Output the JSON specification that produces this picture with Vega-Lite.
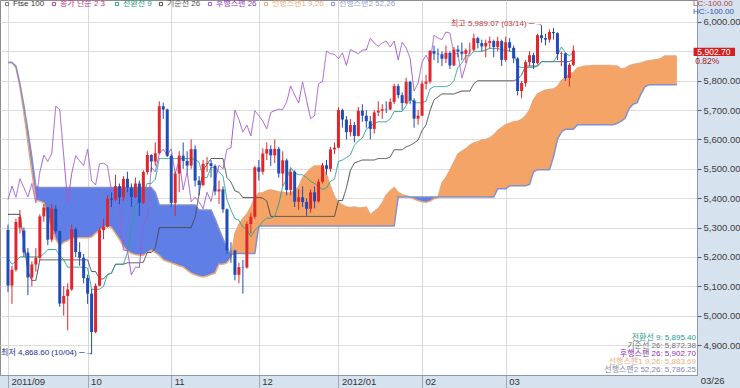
{
"$schema":"https://vega.github.io/schema/vega-lite/v6.json",
"width":697,"height":375,
"autosize":{"type":"none"},
"padding":{"left":0,"top":0,"right":43,"bottom":13},
"background":"#d7e2ef",
"view":{"fill":"#ffffff","stroke":"#8c8c8c"},
"config":{"font":"Liberation Sans, Noto Sans CJK KR","axis":{"labelFont":"Liberation Sans, Noto Sans CJK KR"},"legend":{"labelFont":"Liberation Sans, Noto Sans CJK KR"},
 "axisY":{"tickSize":4,"tickColor":"#555555","labelPadding":2,"labelFontSize":9.5,"labelColor":"#3c3c3c","labelOverlap":false,"labelFlush":false,"domainColor":"#8a9ab0","grid":true,"gridColor":"#dcdcdc"}},
"datasets":{
"main":[
{"i":0,"o":5292,"h":5310,"l":5080,"c":5102.6,"t":5195,"k":5345,"ch":5395},
{"i":1,"o":5102.6,"h":5170,"l":5040,"c":5156.4,"t":5175,"k":5345,"ch":5441},
{"i":2,"o":5156.4,"h":5330,"l":5150,"c":5318.6,"t":5185,"k":5345,"ch":5403},
{"i":3,"o":5300,"h":5360,"l":5280,"c":5336,"t":5200,"k":5345,"ch":5466},
{"i":4,"o":5290,"h":5300,"l":5200,"c":5215,"t":5200,"k":5250,"ch":5436},
{"i":5,"o":5215,"h":5230,"l":5070,"c":5130,"t":5200,"k":5150,"ch":5404},
{"i":6,"o":5130,"h":5185,"l":5100,"c":5174,"t":5200,"k":5120,"ch":5450},
{"i":7,"o":5174,"h":5230,"l":5150,"c":5197,"t":5200,"k":5120,"ch":5384},
{"i":8,"o":5197,"h":5345,"l":5190,"c":5338,"t":5200,"k":5190,"ch":5489},
{"i":9,"o":5338,"h":5380,"l":5320,"c":5368,"t":5210,"k":5190,"ch":5547},
{"i":10,"o":5368,"h":5370,"l":5240,"c":5259,"t":5225,"k":5190,"ch":5525},
{"i":11,"o":5259,"h":5380,"l":5250,"c":5364,"t":5225,"k":5190,"ch":5553},
{"i":12,"o":5364,"h":5375,"l":5280,"c":5288,"t":5225,"k":5190,"ch":5713},
{"i":13,"o":5288,"h":5290,"l":5030,"c":5041,"t":5205,"k":5190,"ch":5702},
{"i":14,"o":5041,"h":5100,"l":5000,"c":5067,"t":5190,"k":5190,"ch":5544},
{"i":15,"o":5067,"h":5110,"l":4950,"c":5089,"t":5165,"k":5190,"ch":5384},
{"i":16,"o":5089,"h":5310,"l":5085,"c":5294,"t":5165,"k":5190,"ch":5484},
{"i":17,"o":5294,"h":5300,"l":5200,"c":5217,"t":5165,"k":5190,"ch":5545},
{"i":18,"o":5217,"h":5250,"l":5170,"c":5197,"t":5165,"k":5190,"ch":5527},
{"i":19,"o":5197,"h":5210,"l":5110,"c":5128,"t":5165,"k":5190,"ch":5511},
{"i":20,"o":5128,"h":5140,"l":5040,"c":5075,"t":5162,"k":5190,"ch":5567},
{"i":21,"o":5075,"h":5090,"l":4868.6,"c":4944,"t":5090,"k":5150,"ch":5460},
{"i":22,"o":4944,"h":5110,"l":4940,"c":5102,"t":5090,"k":5150,"ch":5445},
{"i":23,"o":5102,"h":5300,"l":5100,"c":5291,"t":5090,"k":5125,"ch":5517},
{"i":24,"o":5291,"h":5330,"l":5260,"c":5303,"t":5100,"k":5125,"ch":5519},
{"i":25,"o":5303,"h":5410,"l":5300,"c":5399,"t":5140,"k":5140,"ch":5510},
{"i":26,"o":5399,"h":5420,"l":5370,"c":5395,"t":5145,"k":5145,"ch":5423},
{"i":27,"o":5395,"h":5480,"l":5390,"c":5441,"t":5175,"k":5175,"ch":5430},
{"i":28,"o":5441,"h":5450,"l":5380,"c":5403,"t":5175,"k":5175,"ch":5362},
{"i":29,"o":5403,"h":5475,"l":5390,"c":5466,"t":5175,"k":5175,"ch":5223},
{"i":30,"o":5466,"h":5490,"l":5420,"c":5436,"t":5215,"k":5180,"ch":5222},
{"i":31,"o":5436,"h":5450,"l":5370,"c":5404,"t":5295,"k":5180,"ch":5139},
{"i":32,"o":5404,"h":5470,"l":5400,"c":5450,"t":5375,"k":5180,"ch":5165},
{"i":33,"o":5450,"h":5460,"l":5340,"c":5384,"t":5395,"k":5180,"ch":5164},
{"i":34,"o":5384,"h":5495,"l":5380,"c":5489,"t":5418,"k":5182,"ch":5312},
{"i":35,"o":5489,"h":5560,"l":5480,"c":5547,"t":5450,"k":5215,"ch":5337},
{"i":36,"o":5547,"h":5550,"l":5490,"c":5525,"t":5450,"k":5215,"ch":5505},
{"i":37,"o":5525,"h":5590,"l":5510,"c":5553,"t":5465,"k":5230,"ch":5490},
{"i":38,"o":5553,"h":5730,"l":5550,"c":5713,"t":5535,"k":5300,"ch":5552},
{"i":39,"o":5713,"h":5725,"l":5670,"c":5702,"t":5535,"k":5300,"ch":5567},
{"i":40,"o":5702,"h":5705,"l":5540,"c":5544,"t":5535,"k":5300,"ch":5546},
{"i":41,"o":5544,"h":5550,"l":5370,"c":5384,"t":5535,"k":5300,"ch":5568},
{"i":42,"o":5384,"h":5490,"l":5340,"c":5484,"t":5535,"k":5300,"ch":5484},
{"i":43,"o":5484,"h":5560,"l":5420,"c":5545,"t":5535,"k":5300,"ch":5529},
{"i":44,"o":5545,"h":5590,"l":5500,"c":5527,"t":5535,"k":5300,"ch":5428},
{"i":45,"o":5527,"h":5560,"l":5490,"c":5511,"t":5535,"k":5300,"ch":5490},
{"i":46,"o":5511,"h":5600,"l":5500,"c":5567,"t":5535,"k":5300,"ch":5388},
{"i":47,"o":5567,"h":5580,"l":5440,"c":5460,"t":5532,"k":5335,"ch":5403},
{"i":48,"o":5460,"h":5475,"l":5410,"c":5445,"t":5522,"k":5415,"ch":5387},
{"i":49,"o":5445,"h":5530,"l":5440,"c":5517,"t":5470,"k":5495,"ch":5364},
{"i":50,"o":5517,"h":5540,"l":5490,"c":5519,"t":5470,"k":5515,"ch":5420},
{"i":51,"o":5519,"h":5530,"l":5470,"c":5510,"t":5505,"k":5535,"ch":5389},
{"i":52,"o":5510,"h":5515,"l":5410,"c":5423,"t":5505,"k":5535,"ch":5456},
{"i":53,"o":5423,"h":5460,"l":5380,"c":5430,"t":5490,"k":5535,"ch":5512},
{"i":54,"o":5430,"h":5440,"l":5350,"c":5362,"t":5475,"k":5535,"ch":5500},
{"i":55,"o":5362,"h":5365,"l":5210,"c":5223,"t":5395,"k":5470,"ch":5566},
{"i":56,"o":5223,"h":5250,"l":5180,"c":5222,"t":5360,"k":5455,"ch":5572},
{"i":57,"o":5222,"h":5225,"l":5120,"c":5139,"t":5330,"k":5425,"ch":5700},
{"i":58,"o":5139,"h":5180,"l":5110,"c":5165,"t":5325,"k":5420,"ch":5668},
{"i":59,"o":5165,"h":5190,"l":5075,"c":5164,"t":5302,"k":5402,"ch":5625},
{"i":60,"o":5164,"h":5320,"l":5160,"c":5312,"t":5295,"k":5402,"ch":5649},
{"i":61,"o":5312,"h":5350,"l":5280,"c":5337,"t":5268,"k":5402,"ch":5612},
{"i":62,"o":5337,"h":5510,"l":5330,"c":5505,"t":5292,"k":5402,"ch":5698},
{"i":63,"o":5505,"h":5530,"l":5460,"c":5490,"t":5302,"k":5402,"ch":5681},
{"i":64,"o":5490,"h":5570,"l":5480,"c":5552,"t":5322,"k":5400,"ch":5662},
{"i":65,"o":5552,"h":5590,"l":5530,"c":5567,"t":5332,"k":5390,"ch":5636},
{"i":66,"o":5567,"h":5580,"l":5510,"c":5546,"t":5332,"k":5338,"ch":5692},
{"i":67,"o":5546,"h":5600,"l":5520,"c":5568,"t":5338,"k":5338,"ch":5698},
{"i":68,"o":5568,"h":5575,"l":5470,"c":5484,"t":5380,"k":5338,"ch":5703},
{"i":69,"o":5484,"h":5560,"l":5440,"c":5529,"t":5440,"k":5338,"ch":5702},
{"i":70,"o":5529,"h":5535,"l":5410,"c":5428,"t":5465,"k":5338,"ch":5728},
{"i":71,"o":5428,"h":5500,"l":5410,"c":5490,"t":5505,"k":5338,"ch":5782},
{"i":72,"o":5490,"h":5495,"l":5370,"c":5388,"t":5485,"k":5338,"ch":5751},
{"i":73,"o":5388,"h":5430,"l":5360,"c":5403,"t":5480,"k":5338,"ch":5724},
{"i":74,"o":5403,"h":5440,"l":5370,"c":5387,"t":5480,"k":5338,"ch":5796},
{"i":75,"o":5387,"h":5400,"l":5340,"c":5364,"t":5470,"k":5338,"ch":5733},
{"i":76,"o":5364,"h":5430,"l":5350,"c":5420,"t":5458,"k":5338,"ch":5671},
{"i":77,"o":5420,"h":5440,"l":5365,"c":5389,"t":5450,"k":5338,"ch":5681},
{"i":78,"o":5389,"h":5465,"l":5385,"c":5456,"t":5438,"k":5338,"ch":5790},
{"i":79,"o":5456,"h":5520,"l":5450,"c":5512,"t":5430,"k":5338,"ch":5797},
{"i":80,"o":5512,"h":5530,"l":5480,"c":5500,"t":5435,"k":5338,"ch":5901},
{"i":81,"o":5500,"h":5575,"l":5490,"c":5566,"t":5458,"k":5338,"ch":5892},
{"i":82,"o":5566,"h":5590,"l":5550,"c":5572,"t":5465,"k":5338,"ch":5890},
{"i":83,"o":5572,"h":5710,"l":5570,"c":5700,"t":5525,"k":5392,"ch":5875},
{"i":84,"o":5700,"h":5705,"l":5640,"c":5668,"t":5530,"k":5392,"ch":5895},
{"i":85,"o":5668,"h":5680,"l":5600,"c":5625,"t":5538,"k":5435,"ch":5852},
{"i":86,"o":5625,"h":5670,"l":5610,"c":5649,"t":5548,"k":5495,"ch":5906},
{"i":87,"o":5649,"h":5660,"l":5590,"c":5612,"t":5580,"k":5520,"ch":5899},
{"i":88,"o":5612,"h":5710,"l":5610,"c":5698,"t":5595,"k":5525,"ch":5892},
{"i":89,"o":5698,"h":5720,"l":5660,"c":5681,"t":5605,"k":5530,"ch":5904},
{"i":90,"o":5681,"h":5700,"l":5640,"c":5662,"t":5635,"k":5530,"ch":5905},
{"i":91,"o":5662,"h":5680,"l":5600,"c":5636,"t":5645,"k":5530,"ch":5945},
{"i":92,"o":5636,"h":5700,"l":5620,"c":5692,"t":5655,"k":5530,"ch":5928},
{"i":93,"o":5692,"h":5730,"l":5680,"c":5698,"t":5660,"k":5535,"ch":5917},
{"i":94,"o":5698,"h":5720,"l":5670,"c":5703,"t":5660,"k":5535,"ch":5929},
{"i":95,"o":5703,"h":5730,"l":5690,"c":5702,"t":5660,"k":5535,"ch":5935},
{"i":96,"o":5702,"h":5740,"l":5700,"c":5728,"t":5670,"k":5540,"ch":5915},
{"i":97,"o":5728,"h":5790,"l":5720,"c":5782,"t":5695,"k":5565,"ch":5935},
{"i":98,"o":5782,"h":5790,"l":5740,"c":5751,"t":5695,"k":5565,"ch":5871},
{"i":99,"o":5751,"h":5760,"l":5700,"c":5724,"t":5695,"k":5565,"ch":5931},
{"i":100,"o":5724,"h":5810,"l":5720,"c":5796,"t":5715,"k":5575,"ch":5912},
{"i":101,"o":5796,"h":5800,"l":5720,"c":5733,"t":5740,"k":5580,"ch":5876},
{"i":102,"o":5733,"h":5740,"l":5640,"c":5671,"t":5725,"k":5588,"ch":5765},
{"i":103,"o":5671,"h":5700,"l":5650,"c":5681,"t":5725,"k":5598,"ch":5792},
{"i":104,"o":5681,"h":5800,"l":5680,"c":5790,"t":5725,"k":5630,"ch":5863},
{"i":105,"o":5790,"h":5820,"l":5770,"c":5797,"t":5730,"k":5650,"ch":5887},
{"i":106,"o":5797,"h":5905,"l":5790,"c":5901,"t":5772,"k":5698,"ch":5860},
{"i":107,"o":5901,"h":5920,"l":5870,"c":5892,"t":5780,"k":5735,"ch":5955},
{"i":108,"o":5892,"h":5910,"l":5860,"c":5890,"t":5780,"k":5745,"ch":5945},
{"i":109,"o":5890,"h":5900,"l":5850,"c":5875,"t":5780,"k":5755,"ch":5940},
{"i":110,"o":5875,"h":5920,"l":5860,"c":5895,"t":5780,"k":5755,"ch":5966},
{"i":111,"o":5895,"h":5900,"l":5840,"c":5852,"t":5785,"k":5755,"ch":5962},
{"i":112,"o":5852,"h":5915,"l":5850,"c":5906,"t":5800,"k":5755,"ch":5891},
{"i":113,"o":5906,"h":5920,"l":5880,"c":5899,"t":5845,"k":5760,"ch":5893},
{"i":114,"o":5899,"h":5930,"l":5870,"c":5892,"t":5860,"k":5765,"ch":5809},
{"i":115,"o":5892,"h":5910,"l":5860,"c":5904,"t":5885,"k":5765,"ch":5854},
{"i":116,"o":5904,"h":5930,"l":5890,"c":5905,"t":5885,"k":5765,"ch":5902.7},
{"i":117,"o":5905,"h":5960,"l":5900,"c":5945,"t":5900,"k":5790},
{"i":118,"o":5945,"h":5950,"l":5910,"c":5928,"t":5900,"k":5800},
{"i":119,"o":5928,"h":5940,"l":5900,"c":5917,"t":5900,"k":5800},
{"i":120,"o":5917,"h":5940,"l":5880,"c":5929,"t":5905,"k":5800},
{"i":121,"o":5929,"h":5950,"l":5910,"c":5935,"t":5910,"k":5800},
{"i":122,"o":5935,"h":5940,"l":5880,"c":5915,"t":5910,"k":5800},
{"i":123,"o":5915,"h":5950,"l":5900,"c":5935,"t":5910,"k":5800},
{"i":124,"o":5935,"h":5940,"l":5850,"c":5871,"t":5905,"k":5800},
{"i":125,"o":5871,"h":5950,"l":5865,"c":5931,"t":5905,"k":5800},
{"i":126,"o":5931,"h":5945,"l":5900,"c":5912,"t":5900,"k":5800},
{"i":127,"o":5912,"h":5920,"l":5860,"c":5876,"t":5900,"k":5800},
{"i":128,"o":5876,"h":5880,"l":5750,"c":5765,"t":5850,"k":5805},
{"i":129,"o":5765,"h":5800,"l":5740,"c":5792,"t":5845,"k":5820},
{"i":130,"o":5792,"h":5870,"l":5780,"c":5863,"t":5845,"k":5850},
{"i":131,"o":5863,"h":5900,"l":5850,"c":5887,"t":5845,"k":5850},
{"i":132,"o":5887,"h":5895,"l":5840,"c":5860,"t":5845,"k":5850},
{"i":133,"o":5860,"h":5960,"l":5855,"c":5955,"t":5850,"k":5850},
{"i":134,"o":5955,"h":5989.07,"l":5930,"c":5945,"t":5865,"k":5865},
{"i":135,"o":5945,"h":5960,"l":5920,"c":5940,"t":5865,"k":5865},
{"i":136,"o":5940,"h":5975,"l":5930,"c":5966,"t":5865,"k":5865},
{"i":137,"o":5966,"h":5980,"l":5940,"c":5962,"t":5865,"k":5865},
{"i":138,"o":5962,"h":5965,"l":5870,"c":5891,"t":5885,"k":5865},
{"i":139,"o":5891,"h":5900,"l":5850,"c":5893,"t":5915,"k":5865},
{"i":140,"o":5893,"h":5895,"l":5800,"c":5809,"t":5895,"k":5865},
{"i":141,"o":5809,"h":5860,"l":5780,"c":5854,"t":5885,"k":5865},
{"i":142,"o":5854,"h":5920,"l":5850,"c":5902.7,"t":5895.4,"k":5872.38}
],
"cloud":[
{"i":0,"a":5862,"b":5862,"s":"1"},{"i":1,"a":5862,"b":5862,"s":"1"},{"i":2,"a":5845,"b":5850,"s":"1"},{"i":3,"a":5780,"b":5790,"s":"1"},
{"i":4,"a":5690,"b":5715,"s":"1"},{"i":5,"a":5590,"b":5630,"s":"1"},{"i":6,"a":5490,"b":5540,"s":"1"},{"i":7,"a":5394,"b":5440,"s":"1"},
{"i":8,"a":5390,"b":5436,"s":"1"},{"i":9,"a":5384,"b":5436,"s":"1"},{"i":10,"a":5340,"b":5436,"s":"1"},{"i":11,"a":5300,"b":5436,"s":"1"},
{"i":12,"a":5260,"b":5436,"s":"1"},{"i":13,"a":5238,"b":5436,"s":"1"},{"i":14,"a":5250,"b":5436,"s":"1"},{"i":15,"a":5255,"b":5436,"s":"1"},
{"i":16,"a":5265,"b":5436,"s":"1"},{"i":17,"a":5265,"b":5436,"s":"1"},{"i":18,"a":5265,"b":5436,"s":"1"},{"i":19,"a":5265,"b":5436,"s":"1"},
{"i":20,"a":5265,"b":5436,"s":"1"},{"i":21,"a":5268,"b":5436,"s":"1"},{"i":22,"a":5280,"b":5436,"s":"1"},{"i":23,"a":5292,"b":5436,"s":"1"},
{"i":24,"a":5300,"b":5436,"s":"1"},{"i":25,"a":5306,"b":5436,"s":"1"},{"i":26,"a":5300,"b":5436,"s":"1"},{"i":27,"a":5280,"b":5436,"s":"1"},
{"i":28,"a":5260,"b":5436,"s":"1"},{"i":29,"a":5235,"b":5436,"s":"1"},{"i":30,"a":5220,"b":5436,"s":"1"},{"i":31,"a":5212,"b":5436,"s":"1"},
{"i":32,"a":5208,"b":5436,"s":"1"},{"i":33,"a":5206,"b":5436,"s":"1"},{"i":34,"a":5206,"b":5436,"s":"1"},{"i":35,"a":5215,"b":5436,"s":"1"},
{"i":36,"a":5223,"b":5436,"s":"1"},{"i":37,"a":5215,"b":5420,"s":"1"},{"i":38,"a":5205,"b":5377,"s":"1"},{"i":39,"a":5190,"b":5377,"s":"1"},
{"i":40,"a":5185,"b":5377,"s":"1"},{"i":41,"a":5180,"b":5377,"s":"1"},{"i":42,"a":5175,"b":5377,"s":"1"},{"i":43,"a":5170,"b":5377,"s":"1"},
{"i":44,"a":5166,"b":5377,"s":"1"},{"i":45,"a":5155,"b":5377,"s":"1"},{"i":46,"a":5145,"b":5377,"s":"1"},{"i":47,"a":5139,"b":5377,"s":"1"},
{"i":48,"a":5135,"b":5360,"s":"1"},{"i":49,"a":5132,"b":5360,"s":"1"},{"i":50,"a":5135,"b":5360,"s":"1"},{"i":51,"a":5140,"b":5360,"s":"1"},
{"i":52,"a":5145,"b":5330,"s":"1"},{"i":53,"a":5175,"b":5295,"s":"1"},{"i":54,"a":5175,"b":5262,"s":"1"},{"i":55,"a":5180,"b":5230,"s":"1"},
{"i":56,"a":5198,"b":5208,"s":"1"},{"i":56.13,"a":5208.5,"b":5208.5,"s":"1"},
{"i":56.13,"a":5208.5,"b":5208.5,"s":"2"},{"i":57,"a":5280,"b":5212,"s":"2"},{"i":58,"a":5310,"b":5212,"s":"2"},{"i":59,"a":5330,"b":5212,"s":"2"},
{"i":60,"a":5345,"b":5212,"s":"2"},{"i":61,"a":5370,"b":5212,"s":"2"},{"i":62,"a":5400,"b":5212,"s":"2"},{"i":63,"a":5418,"b":5305,"s":"2"},
{"i":64,"a":5418,"b":5305,"s":"2"},{"i":65,"a":5425,"b":5305,"s":"2"},{"i":66,"a":5428,"b":5305,"s":"2"},{"i":67,"a":5425,"b":5305,"s":"2"},
{"i":68,"a":5421,"b":5305,"s":"2"},{"i":69,"a":5420,"b":5305,"s":"2"},{"i":70,"a":5418,"b":5305,"s":"2"},{"i":71,"a":5418,"b":5305,"s":"2"},
{"i":72,"a":5425,"b":5305,"s":"2"},{"i":73,"a":5438,"b":5305,"s":"2"},{"i":74,"a":5470,"b":5305,"s":"2"},{"i":75,"a":5486,"b":5305,"s":"2"},
{"i":76,"a":5500,"b":5305,"s":"2"},{"i":77,"a":5510,"b":5305,"s":"2"},{"i":78,"a":5510,"b":5305,"s":"2"},{"i":79,"a":5508,"b":5305,"s":"2"},
{"i":80,"a":5480,"b":5305,"s":"2"},{"i":81,"a":5440,"b":5305,"s":"2"},{"i":82,"a":5405,"b":5305,"s":"2"},{"i":83,"a":5385,"b":5305,"s":"2"},
{"i":84,"a":5377,"b":5305,"s":"2"},{"i":85,"a":5370,"b":5305,"s":"2"},{"i":86,"a":5368,"b":5305,"s":"2"},{"i":87,"a":5370,"b":5305,"s":"2"},
{"i":88,"a":5367,"b":5305,"s":"2"},{"i":89,"a":5367,"b":5305,"s":"2"},{"i":90,"a":5370,"b":5305,"s":"2"},{"i":91,"a":5343,"b":5305,"s":"2"},
{"i":92,"a":5355,"b":5305,"s":"2"},{"i":93,"a":5365,"b":5305,"s":"2"},{"i":94,"a":5384,"b":5305,"s":"2"},{"i":95,"a":5410,"b":5305,"s":"2"},
{"i":96,"a":5425,"b":5305,"s":"2"},{"i":97,"a":5436,"b":5305,"s":"2"},{"i":98,"a":5420,"b":5404,"s":"2"},{"i":99,"a":5412,"b":5404,"s":"2"},
{"i":100,"a":5408,"b":5404,"s":"2"},{"i":101,"a":5404,"b":5404,"s":"2"},
{"i":101,"a":5404,"b":5404,"s":"3"},{"i":102,"a":5397,"b":5404,"s":"3"},{"i":103,"a":5392,"b":5404,"s":"3"},{"i":104,"a":5388,"b":5404,"s":"3"},
{"i":105,"a":5386,"b":5404,"s":"3"},{"i":106,"a":5390,"b":5404,"s":"3"},{"i":107,"a":5398,"b":5404,"s":"3"},{"i":108,"a":5402,"b":5404,"s":"3"},
{"i":108.04,"a":5404,"b":5404,"s":"3"},
{"i":108.04,"a":5404,"b":5404,"s":"4"},{"i":109,"a":5452,"b":5404,"s":"4"},{"i":110,"a":5470,"b":5404,"s":"4"},{"i":111,"a":5495,"b":5404,"s":"4"},
{"i":112,"a":5522,"b":5404,"s":"4"},{"i":113,"a":5550,"b":5404,"s":"4"},{"i":114,"a":5560,"b":5404,"s":"4"},{"i":115,"a":5568,"b":5404,"s":"4"},
{"i":116,"a":5580,"b":5404,"s":"4"},{"i":117,"a":5588,"b":5404,"s":"4"},{"i":118,"a":5592,"b":5404,"s":"4"},{"i":119,"a":5598,"b":5404,"s":"4"},
{"i":120,"a":5600,"b":5404,"s":"4"},{"i":121,"a":5605,"b":5404,"s":"4"},{"i":122,"a":5615,"b":5404,"s":"4"},{"i":123,"a":5630,"b":5432,"s":"4"},
{"i":124,"a":5640,"b":5432,"s":"4"},{"i":125,"a":5650,"b":5432,"s":"4"},{"i":126,"a":5655,"b":5442,"s":"4"},{"i":127,"a":5660,"b":5442,"s":"4"},
{"i":128,"a":5662,"b":5442,"s":"4"},{"i":129,"a":5668,"b":5442,"s":"4"},{"i":130,"a":5680,"b":5442,"s":"4"},{"i":131,"a":5700,"b":5447,"s":"4"},
{"i":132,"a":5735,"b":5490,"s":"4"},{"i":133,"a":5755,"b":5497,"s":"4"},{"i":134,"a":5762,"b":5497,"s":"4"},{"i":135,"a":5768,"b":5497,"s":"4"},
{"i":136,"a":5770,"b":5497,"s":"4"},{"i":137,"a":5772,"b":5540,"s":"4"},{"i":138,"a":5780,"b":5600,"s":"4"},{"i":139,"a":5800,"b":5625,"s":"4"},
{"i":140,"a":5812,"b":5635,"s":"4"},{"i":141,"a":5822,"b":5635,"s":"4"},{"i":142,"a":5828,"b":5635,"s":"4"},{"i":143,"a":5843,"b":5650,"s":"4"},
{"i":144,"a":5847,"b":5650,"s":"4"},{"i":145,"a":5850,"b":5650,"s":"4"},{"i":146,"a":5850,"b":5650,"s":"4"},{"i":147,"a":5852,"b":5650,"s":"4"},
{"i":148,"a":5852,"b":5650,"s":"4"},{"i":149,"a":5852,"b":5650,"s":"4"},{"i":150,"a":5852,"b":5650,"s":"4"},{"i":151,"a":5852,"b":5650,"s":"4"},
{"i":152,"a":5850,"b":5650,"s":"4"},{"i":153,"a":5850,"b":5655,"s":"4"},{"i":154,"a":5840,"b":5662,"s":"4"},{"i":155,"a":5842,"b":5672,"s":"4"},
{"i":156,"a":5850,"b":5705,"s":"4"},{"i":157,"a":5855,"b":5720,"s":"4"},{"i":158,"a":5858,"b":5725,"s":"4"},{"i":159,"a":5860,"b":5755,"s":"4"},
{"i":160,"a":5865,"b":5780,"s":"4"},{"i":161,"a":5868,"b":5786,"s":"4"},{"i":162,"a":5870,"b":5786,"s":"4"},{"i":163,"a":5872,"b":5786,"s":"4"},
{"i":164,"a":5876,"b":5786,"s":"4"},{"i":165,"a":5884,"b":5786,"s":"4"},{"i":166,"a":5884,"b":5786,"s":"4"},{"i":167,"a":5884,"b":5786,"s":"4"},
{"i":168,"a":5883.69,"b":5786.25,"s":"4"}
]
},
"encoding":{"x":{"field":"i","type":"quantitative","scale":{"domain":[-0.75,171.8],"nice":false,"zero":false},
 "axis":{"values":[0,20,41,63,83,104,125],"labelExpr":"datum.value==0?'2011/09':datum.value==20?'10':datum.value==41?'11':datum.value==63?'12':datum.value==83?'2012/01':datum.value==104?'02':'03'","title":null,"grid":true,"gridColor":"#d6d6d6","tickSize":13,"tickColor":"#9aa8ba","domainColor":"#8a9ab0","labelAlign":"left","labelBaseline":"middle","labelPadding":-6.5,"labelOffset":3,"labelFontSize":9.5,"labelColor":"#333333","labelFlush":false,"labelOverlap":false}}},
"layer":[
{"data":{"name":"cloud"},"mark":{"type":"area"},
 "encoding":{"y":{"field":"a","type":"quantitative","scale":{"domain":[4797.9,6074.9],"nice":false,"zero":false},
   "axis":{"orient":"right","title":null,"values":[4900,5000,5100,5200,5300,5400,5500,5600,5700,5800,5900,6000],"format":",.2f","labelExpr":"datum.value==5900?'':datum.label"}},
  "y2":{"field":"b"},
  "fill":{"field":"s","type":"nominal","scale":{"domain":["1","2","3","4"],"range":["#5f7ee6","#f5a468","#5f7ee6","#f5a468"]},"legend":null},
  "detail":{"field":"s"}}},
{"data":{"name":"cloud"},"transform":[{"fold":["a","b"],"as":["key","val"]}],"mark":{"type":"line","strokeWidth":1.5},
 "encoding":{"y":{"field":"val","type":"quantitative","scale":{"domain":[4797.9,6074.9],"nice":false,"zero":false},"axis":{"orient":"right","title":null,"values":[4900,5000,5100,5200,5300,5400,5500,5600,5700,5800,5900,6000],"format":",.2f","labelExpr":"datum.value==5900?'':datum.label"}},
  "color":{"field":"key","type":"nominal","scale":{"domain":["ftse","ma","t","k","ch","a","b"],"range":["#777777","#c8408a","#2aa393","#4a4a4a","#a35ccf","#eaa878","#8590c8"]},
   "legend":{"orient":"none","legendX":3,"legendY":0,"direction":"horizontal","title":null,"symbolType":"square","symbolSize":10,"symbolStrokeWidth":1,"labelFontSize":8,"labelOffset":2,"columnPadding":5,"padding":0,
    "labelExpr":"datum.value=='ftse'?'Ftse 100':datum.value=='ma'?'종가 단순 2  3':datum.value=='t'?'전환선 9':datum.value=='k'?'기준선 26':datum.value=='ch'?'후행스팬 26':datum.value=='a'?'선행스팬1 9,26':'선행스팬2 52,26'",
    "labelColor":{"expr":"datum.value=='ftse'?'#333333':datum.value=='ma'?'#c0368a':datum.value=='t'?'#1f9a8a':datum.value=='k'?'#555555':datum.value=='ch'?'#8b3ab8':datum.value=='a'?'#e4ae80':'#93a0c8'"}}},
  "strokeDash":{"field":"key","type":"nominal","scale":{"domain":["t","k","ch","a","b"],"range":[[1,0],[1,0],[1,0],[1,0],[1,0]]},
   "legend":{"orient":"none","legendX":600,"legendY":334,"direction":"vertical","title":null,"symbolOpacity":0,"symbolSize":1,"labelAlign":"right","labelOffset":88,"labelFontSize":8,"rowPadding":-0.5,"padding":0,
    "labelExpr":"datum.value=='t'?'전환선 9: 5,895.40':datum.value=='k'?'기준선 26: 5,872.38':datum.value=='ch'?'후행스팬 26: 5,902.70':datum.value=='a'?'선행스팬1 9,26: 5,883.69':'선행스팬2 52,26: 5,786.25'",
    "labelColor":{"expr":"datum.value=='t'?'#1f9a8a':datum.value=='k'?'#707070':datum.value=='ch'?'#8a2eb0':datum.value=='a'?'#e6b184':'#8088b0'"}}}}},
{"data":{"name":"main"},"transform":[{"fold":["k","t","ch"],"as":["key","val"]}],"mark":{"type":"line","strokeWidth":1},
 "encoding":{"y":{"field":"val","type":"quantitative","scale":{"domain":[4797.9,6074.9],"nice":false,"zero":false},"axis":{"orient":"right","title":null,"values":[4900,5000,5100,5200,5300,5400,5500,5600,5700,5800,5900,6000],"format":",.2f","labelExpr":"datum.value==5900?'':datum.label"}},
  "color":{"field":"key","type":"nominal","scale":{"domain":["ftse","ma","t","k","ch","a","b"],"range":["#777777","#c8408a","#2aa393","#4a4a4a","#a35ccf","#eaa878","#8590c8"]}},
  "strokeDash":{"field":"key","type":"nominal","scale":{"domain":["t","k","ch","a","b"],"range":[[1,0],[1,0],[1,0],[1,0],[1,0]]}}}},
{"data":{"name":"main"},"mark":{"type":"rule","strokeWidth":1},
 "encoding":{"y":{"field":"l","type":"quantitative","scale":{"domain":[4797.9,6074.9],"nice":false,"zero":false},"axis":{"orient":"right","title":null,"values":[4900,5000,5100,5200,5300,5400,5500,5600,5700,5800,5900,6000],"format":",.2f","labelExpr":"datum.value==5900?'':datum.label"}},"y2":{"field":"h"},
  "color":{"condition":{"test":"datum.c>=datum.o","value":"#e0262b"},"value":"#1f4cb8"}}},
{"data":{"name":"main"},"mark":{"type":"bar","size":3},
 "encoding":{"y":{"field":"o","type":"quantitative","scale":{"domain":[4797.9,6074.9],"nice":false,"zero":false},"axis":{"orient":"right","title":null,"values":[4900,5000,5100,5200,5300,5400,5500,5600,5700,5800,5900,6000],"format":",.2f","labelExpr":"datum.value==5900?'':datum.label"}},"y2":{"field":"c"},
  "color":{"condition":{"test":"datum.c>=datum.o","value":"#e0262b"},"value":"#1f4cb8"}}},
{"data":{"values":[{"i":134,"v":5989.07,"label":"최고 5,989.07 (03/14) ─→"},{"i":21,"v":4868.6,"label":"최저 4,868.60 (10/04) ─→"}]},
 "mark":{"type":"text","clip":false,"align":"right","baseline":"middle","dx":1,"fontSize":8},
 "encoding":{"text":{"field":"label"},"yOffset":{"condition":{"test":"datum.v>5500","value":6},"value":-1},
  "color":{"condition":{"test":"datum.v>5500","value":"#c43a3a"},"value":"#1d2c8a"},
  "y":{"field":"v","type":"quantitative","scale":{"domain":[4797.9,6074.9],"nice":false,"zero":false},"axis":{"orient":"right","title":null,"values":[4900,5000,5100,5200,5300,5400,5500,5600,5700,5800,5900,6000],"format":",.2f","labelExpr":"datum.value==5900?'':datum.label"}}}},
{"data":{"values":[{"i":172.2,"i2":182.6,"v":5912,"v2":5884}]},"mark":{"type":"rect","clip":false,"color":"#d42020"},
 "encoding":{"x2":{"field":"i2"},"y":{"field":"v","type":"quantitative","scale":{"domain":[4797.9,6074.9],"nice":false,"zero":false},"axis":{"orient":"right","title":null,"values":[4900,5000,5100,5200,5300,5400,5500,5600,5700,5800,5900,6000],"format":",.2f","labelExpr":"datum.value==5900?'':datum.label"}},"y2":{"field":"v2"}}},
{"data":{"values":[{"i":177.3,"v":5898,"label":"5,902.70"}]},
 "mark":{"type":"text","clip":false,"baseline":"middle","align":"center","fontSize":8.5,"color":"#ffffff"},
 "encoding":{"text":{"field":"label"},
  "y":{"field":"v","type":"quantitative","scale":{"domain":[4797.9,6074.9],"nice":false,"zero":false},"axis":{"orient":"right","title":null,"values":[4900,5000,5100,5200,5300,5400,5500,5600,5700,5800,5900,6000],"format":",.2f","labelExpr":"datum.value==5900?'':datum.label"}}}},
{"data":{"values":[{"i":172.6,"v":5867.2,"label":"0.82%","g":"q"},{"i":172.05,"v":6061.3,"label":"LC:-100.00","g":"lc"},{"i":172.05,"v":6032.4,"label":"HC:-100.00","g":"hc"},{"i":174.0,"v":4777.5,"label":"03/26","g":"d"}]},
 "mark":{"type":"text","clip":false,"baseline":"middle","align":"left"},
 "encoding":{"text":{"field":"label"},
  "size":{"condition":[{"test":"datum.g=='d'","value":9.5},{"test":"datum.g=='lc'||datum.g=='hc'","value":8}],"value":8.5},
  "color":{"condition":[{"test":"datum.g=='q'","value":"#a02020"},{"test":"datum.g=='lc'","value":"#b0413e"},{"test":"datum.g=='hc'","value":"#3050b0"}],"value":"#333333"},
  "y":{"field":"v","type":"quantitative","scale":{"domain":[4797.9,6074.9],"nice":false,"zero":false},"axis":{"orient":"right","title":null,"values":[4900,5000,5100,5200,5300,5400,5500,5600,5700,5800,5900,6000],"format":",.2f","labelExpr":"datum.value==5900?'':datum.label"}}}}
]
}
